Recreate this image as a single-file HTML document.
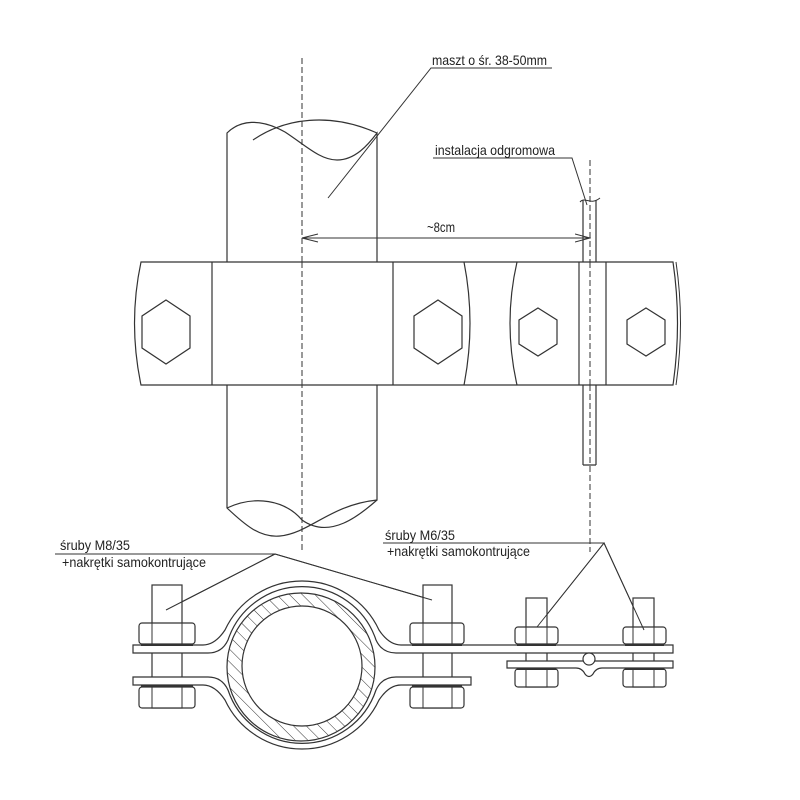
<!DOCTYPE html>
<html><head><meta charset="utf-8"><style>
html,body{margin:0;padding:0;background:#fff}
svg{display:block}
text{font-family:"Liberation Sans Narrow","Liberation Sans",sans-serif;font-size:14px;fill:#222}
</style></head><body>
<svg width="800" height="800" viewBox="0 0 800 800" xmlns="http://www.w3.org/2000/svg">
<defs>
<pattern id="h" width="9" height="9" patternUnits="userSpaceOnUse" patternTransform="rotate(-45)">
<line x1="0" y1="0" x2="0" y2="9" stroke="#333" stroke-width="1"/>
</pattern>
<marker id="ar" markerWidth="16" markerHeight="10" refX="15" refY="5" orient="auto" markerUnits="userSpaceOnUse">
<path d="M0,1 L15,5 L0,9" fill="none" stroke="#333" stroke-width="1"/>
</marker>
</defs>
<g fill="none" stroke="#333" stroke-width="1.2">
<!-- mast -->
<path d="M227,262 L227,133 C240,120 260,118 285,132 C305,145 320,160 337,160 C355,160 368,145 377,133 L377,262"/>
<path d="M253,140 C285,118 330,112 377,133" />
<path d="M227,385 L227,508 C245,525 260,538 280,536 C310,533 330,505 377,500 L377,385"/>
<path d="M227,508 C255,495 285,500 302,520 C330,540 360,515 377,500"/>
<!-- axes -->
<line x1="302" y1="58" x2="302" y2="552" stroke-dasharray="6,3" stroke-width="1"/>
<line x1="590" y1="160" x2="590" y2="552" stroke-dasharray="6,3" stroke-width="1"/>
<!-- rod -->
<path d="M583,465 L583,200 M596,465 L596,200 M583,465 L596,465"/>
<path d="M580,202 C585,196 590,206 600,198" stroke-width="1"/>
<!-- leaders top -->
<path d="M328,198 L431,68 L552,68" stroke-width="1"/>
<path d="M433,158 L572,158 L587,205" stroke-width="1"/>
<line x1="302" y1="238" x2="590" y2="238" stroke-width="1" marker-end="url(#ar)"/>
<path d="M318,234 L302,238 L318,242" stroke-width="1"/>
<!-- band -->
<path d="M141,262 L673,262 Q682,323 673,385 L141,385 Q128,323 141,262 Z" fill="#fff"/>
<path d="M676,262 Q685,323 676,385" stroke-width="1"/>
<line x1="212" y1="262" x2="212" y2="385"/>
<line x1="302" y1="262" x2="302" y2="385" stroke-dasharray="6,3" stroke-width="1"/>
<line x1="393" y1="262" x2="393" y2="385"/>
<path d="M464,262 Q476,323 464,385"/>
<path d="M517,262 Q503,323 517,385"/>
<line x1="579" y1="262" x2="579" y2="385"/>
<line x1="606" y1="262" x2="606" y2="385"/>
<line x1="590" y1="262" x2="590" y2="385" stroke-dasharray="6,3" stroke-width="1"/>
<polygon points="166,300 190,316 190,348 166,364 142,348 142,316"/>
<polygon points="438,300 462,316 462,348 438,364 414,348 414,316"/>
<polygon points="538,308 557,320 557,344 538,356 519,344 519,320"/>
<polygon points="646,308 665,320 665,344 646,356 627,344 627,320"/>
<!-- bottom leaders -->
<path d="M55,554 L275,554 L166,610 M275,554 L432,600" stroke-width="1"/>
<path d="M383,543 L604,543 L537,627 M604,543 L644,630" stroke-width="1"/>
<!-- M8 shanks -->
<rect x="152" y="585" width="30" height="123" fill="#fff"/>
<rect x="423" y="585" width="29" height="123" fill="#fff"/>
<!-- M6 shanks -->
<rect x="526" y="598" width="21" height="89" fill="#fff"/>
<rect x="633" y="598" width="21" height="89" fill="#fff"/>
<!-- pipe -->
<circle cx="301" cy="667" r="74" fill="url(#h)"/>
<circle cx="302" cy="666" r="60" fill="#fff"/>
<!-- upper strap -->
<path d="M133,645 L203,645 Q215,645 225,630 A85 85 0 0 1 379,630 Q389,645 401,645 L673,645 L673,653 L396,653 Q382,653 376,640 A78 78 0 0 0 228,640 Q222,653 208,653 L133,653 Z" fill="#fff"/>
<!-- lower strap -->
<path d="M133,677 L208,677 Q222,677 228,690 A78 78 0 0 0 376,690 Q382,677 396,677 L471,677 L471,685 L401,685 Q389,685 379,700 A85 85 0 0 1 225,700 Q215,685 203,685 L133,685 Z" fill="#fff"/>
<!-- second plate -->
<path d="M507,661 L673,661 L673,668 L602,668 Q596,668 593,674 Q589,679 585,674 Q582,668 576,668 L507,668 Z" fill="#fff"/>
<circle cx="589" cy="659" r="6" fill="#fff"/>
</g>
<g fill="#fff" stroke="#333" stroke-width="1.2">
<rect x="139" y="623" width="56" height="21" rx="3"/>
<rect x="139" y="687" width="56" height="21" rx="3"/>
<rect x="410" y="623" width="54" height="21" rx="3"/>
<rect x="410" y="687" width="54" height="21" rx="3"/>
<rect x="515" y="627" width="43" height="17" rx="3"/>
<rect x="515" y="669" width="43" height="18" rx="3"/>
<rect x="623" y="627" width="43" height="17" rx="3"/>
<rect x="623" y="669" width="43" height="18" rx="3"/>
</g>
<g stroke="#333" stroke-width="1">
<path d="M152,623 V644 M182,623 V644 M152,687 V708 M182,687 V708"/>
<path d="M423,623 V644 M452,623 V644 M423,687 V708 M452,687 V708"/>
<path d="M526,627 V644 M547,627 V644 M526,669 V687 M547,669 V687"/>
<path d="M633,627 V644 M654,627 V644 M633,669 V687 M654,669 V687"/>
<path d="M141,645 H193 M141,686 H193 M412,645 H462 M412,686 H462 M517,645 H556 M517,669 H556 M625,645 H664 M625,669 H664" stroke-width="2"/>
<path d="M166,610 L275,554 M432,600 L275,554 M537,627 L604,543 M644,630 L604,543" stroke-width="1"/>
</g>
<text x="432" y="65" textLength="115" lengthAdjust="spacingAndGlyphs">maszt o śr. 38-50mm</text>
<text x="435" y="155" textLength="120" lengthAdjust="spacingAndGlyphs">instalacja odgromowa</text>
<text x="427" y="232" textLength="28" lengthAdjust="spacingAndGlyphs">~8cm</text>
<text x="60" y="550" textLength="70" lengthAdjust="spacingAndGlyphs">śruby M8/35</text>
<text x="62" y="567" textLength="144" lengthAdjust="spacingAndGlyphs">+nakrętki samokontrujące</text>
<text x="385" y="540" textLength="70" lengthAdjust="spacingAndGlyphs">śruby M6/35</text>
<text x="387" y="556" textLength="143" lengthAdjust="spacingAndGlyphs">+nakrętki samokontrujące</text>
</svg>
</body></html>
